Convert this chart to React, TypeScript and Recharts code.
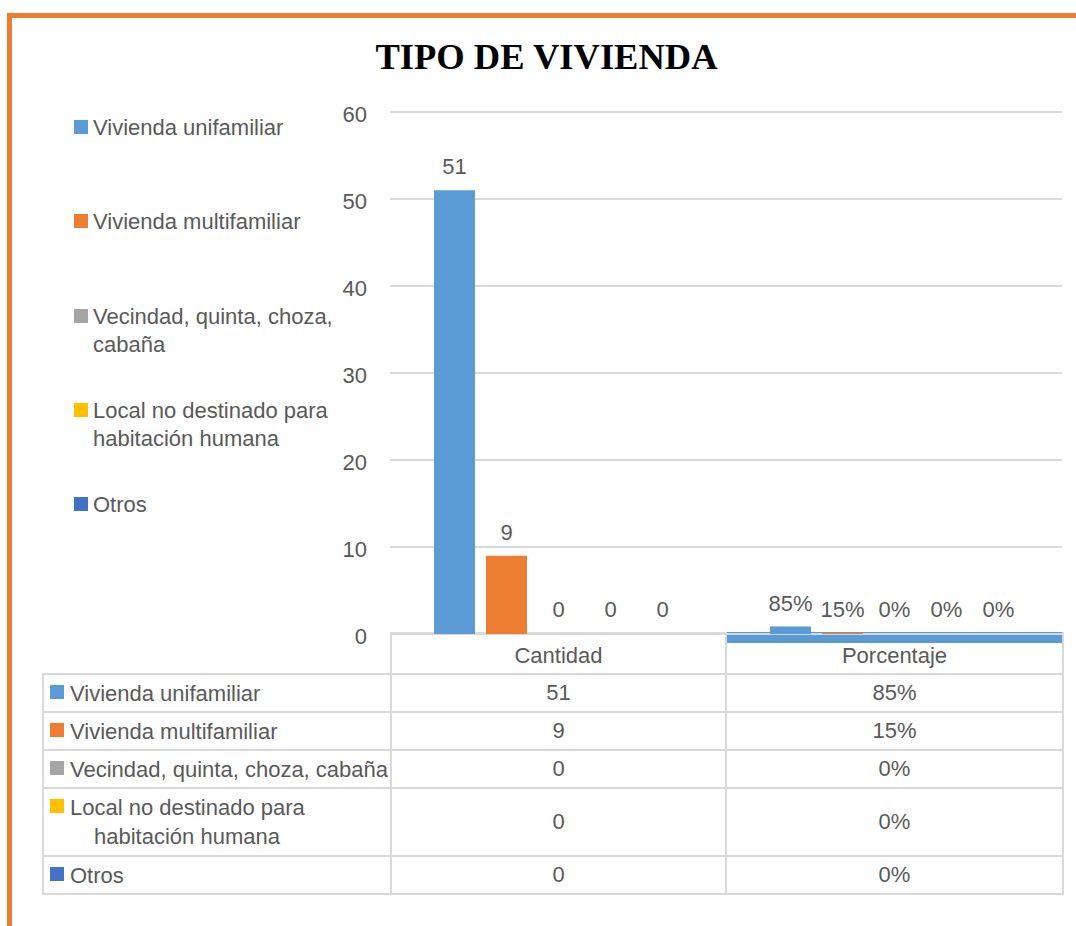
import { BarChart, Bar, XAxis, YAxis, CartesianGrid, LabelList, Cell } from 'recharts'

const TITLE = 'TIPO DE VIVIENDA'
const CATEGORIES = ['Cantidad', 'Porcentaje']
const SERIES = [
  'Vivienda unifamiliar',
  'Vivienda multifamiliar',
  'Vecindad, quinta, choza, cabaña',
  'Local no destinado para habitación humana',
  'Otros',
]
const COLORS = ['#5B9BD5', '#ED7D31', '#A5A5A5', '#FFC000', '#4472C4']
const CANTIDAD = [51, 9, 0, 0, 0]
const PORCENTAJE = [0.85, 0.15, 0, 0, 0]
const Y_TICKS = [0, 10, 20, 30, 40, 50, 60]

const FONT = '"Liberation Sans", Arial, sans-serif'
const TEXT = '#595959'
const GRID = '#D9D9D9'

const fmtCount = (v: number) => `${v}`
const fmtPct = (v: number) => `${Math.round(v * 100)}%`

const VALUES = [CANTIDAD, PORCENTAJE]
const FORMATS = [fmtCount, fmtPct]

// one row per category, one key per series (s = value, l = label text)
const data = CATEGORIES.map((cat, c) => {
  const row: Record<string, string | number> = { cat }
  SERIES.forEach((_, i) => {
    row[`s${i}`] = VALUES[c][i]
    row[`l${i}`] = FORMATS[c](VALUES[c][i])
  })
  return row
})

const cellBorder = `2px solid ${GRID}`

function Swatch({ color }: { color: string }) {
  return (
    <span
      style={{
        display: 'inline-block',
        width: 14,
        height: 14,
        background: color,
        flexShrink: 0,
        marginTop: 6,
      }}
    />
  )
}

function SideLegend() {
  return (
    <>
      {SERIES.map((name, i) => (
        <div
          key={name}
          style={{
            position: 'absolute',
            left: 74,
            top: 114 + i * 94.3,
            width: 270,
            display: 'flex',
            gap: 5,
            alignItems: 'flex-start',
          }}
        >
          <Swatch color={COLORS[i]} />
          <span style={{ width: 250, lineHeight: '28px' }}>{name}</span>
        </div>
      ))}
    </>
  )
}

function DataTable() {
  return (
    <table
      style={{
        position: 'absolute',
        left: 42,
        top: 632,
        width: 1020,
        borderCollapse: 'collapse',
        tableLayout: 'fixed',
        fontSize: 22,
        color: TEXT,
      }}
    >
      <colgroup>
        <col style={{ width: 348 }} />
        <col style={{ width: 335 }} />
        <col style={{ width: 337 }} />
      </colgroup>
      <tbody>
        <tr style={{ height: 41 }}>
          <td style={{ border: 'none', borderBottom: cellBorder, borderRight: cellBorder }} />
          <td style={{ border: cellBorder, textAlign: 'center', paddingTop: 5 }}>{CATEGORIES[0]}</td>
          <td
            style={{
              border: cellBorder,
              borderTop: `2px solid ${COLORS[0]}`,
              boxShadow: `inset 0 9px 0 ${COLORS[0]}`,
              textAlign: 'center',
              paddingTop: 5,
            }}
          >
            {CATEGORIES[1]}
          </td>
        </tr>
        {SERIES.map((name, i) => (
          <tr key={name} style={{ height: name.length > 35 ? 68 : 38 }}>
            <td style={{ border: cellBorder, padding: '0 0 0 6px' }}>
              <div style={{ display: 'flex', gap: 6, alignItems: 'flex-start' }}>
                <Swatch color={COLORS[i]} />
                <span
                  style={{
                    lineHeight: '29px',
                    paddingLeft: 24,
                    textIndent: -24,
                    whiteSpace: name.length > 35 ? 'normal' : 'nowrap',
                    width: name.length > 35 ? 250 : undefined,
                  }}
                >
                  {name}
                </span>
              </div>
            </td>
            <td style={{ border: cellBorder, textAlign: 'center', padding: 0 }}>{fmtCount(CANTIDAD[i])}</td>
            <td style={{ border: cellBorder, textAlign: 'center', padding: 0 }}>{fmtPct(PORCENTAJE[i])}</td>
          </tr>
        ))}
      </tbody>
    </table>
  )
}

export default function App() {
  return (
    <div
      style={{
        position: 'absolute',
        left: 0,
        top: 0,
        width: 1076,
        height: 926,
        background: '#fff',
        fontFamily: FONT,
        fontSize: 22,
        color: TEXT,
        overflow: 'hidden',
      }}
    >
      {/* orange frame (top + left only) */}
      <div
        style={{
          position: 'absolute',
          left: 7,
          top: 13,
          right: 0,
          bottom: 0,
          borderTop: '5px solid #ED7D31',
          borderLeft: '5px solid #ED7D31',
        }}
      />

      <div
        style={{
          position: 'absolute',
          left: 0,
          width: 1093,
          top: 39,
          textAlign: 'center',
          fontFamily: '"Liberation Serif", "Times New Roman", serif',
          fontWeight: 'bold',
          fontSize: 36.5,
          lineHeight: '36px',
          color: '#000',
        }}
      >
        {TITLE}
      </div>

      <SideLegend />
      <DataTable />

      <div style={{ position: 'absolute', left: 0, top: 0 }}>
        <BarChart
          width={1076}
          height={660}
          data={data}
          barGap={11}
          margin={{ top: 112, right: 14, bottom: 26, left: 330 }}
        >
          <CartesianGrid vertical={false} stroke={GRID} strokeWidth={2} />
          <XAxis dataKey="cat" hide />
          <YAxis
            domain={[0, 60]}
            ticks={Y_TICKS}
            interval={0}
            axisLine={false}
            tickLine={false}
            tickSize={0}
            tickMargin={23}
            width={60}
            tick={{ fill: TEXT, fontSize: 22, fontFamily: FONT, dy: 2 }}
          />
          {SERIES.map((name, i) => (
            <Bar
              key={name}
              dataKey={`s${i}`}
              name={name}
              fill={COLORS[i]}
              barSize={41}
              minPointSize={1}
              isAnimationActive={false}
            >
              {/* zero values keep their label but show no bar */}
              {VALUES.map((vals, c) => (
                <Cell key={c} fillOpacity={vals[i] === 0 ? 0 : 1} />
              ))}
              <LabelList
                dataKey={`l${i}`}
                position="top"
                offset={16}
                fill={TEXT}
                fontSize={22}
                fontFamily={FONT}
              />
            </Bar>
          ))}
        </BarChart>
      </div>
    </div>
  )
}
